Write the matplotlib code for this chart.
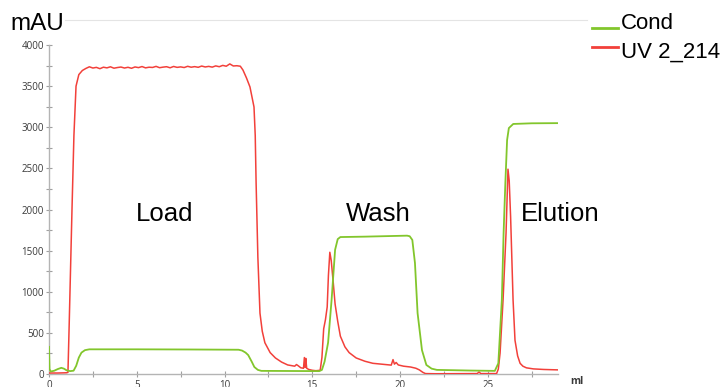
import matplotlib
matplotlib.use("Agg")
import matplotlib.pyplot as plt
from matplotlib.lines import Line2D
from matplotlib.ticker import MultipleLocator

# ---------------- data ----------------
uv_ml = [0.0, 0.5, 1.0, 1.08, 1.15, 1.25, 1.31, 1.42, 1.54, 1.7, 1.9,
         2.1, 2.3, 2.5, 2.7, 2.9, 3.1, 3.3, 3.5, 3.7, 3.9, 4.1, 4.3, 4.5, 4.7, 4.9,
         5.1, 5.3, 5.5, 5.7, 5.9, 6.1, 6.3, 6.5, 6.7, 6.9, 7.1, 7.3, 7.5, 7.7, 7.9,
         8.1, 8.3, 8.5, 8.7, 8.9, 9.1, 9.3, 9.5, 9.7, 9.9, 10.1, 10.3, 10.5, 10.7, 10.9,
         11.05, 11.25, 11.45, 11.68, 11.75, 11.8, 11.9, 12.02, 12.15, 12.3, 12.6, 12.9,
         13.25, 13.6, 14.0, 14.1, 14.2, 14.35, 14.5, 14.55, 14.6, 14.63, 14.68, 14.8,
         15.0, 15.2, 15.45, 15.55, 15.65, 15.75, 15.85, 15.92, 16.0, 16.08, 16.2, 16.3,
         16.45, 16.6, 16.86, 17.1, 17.5, 18.0, 18.45, 19.0, 19.5, 19.6, 19.68, 19.78,
         19.9, 20.2, 20.6, 20.9, 21.1, 21.3, 21.45, 22.0, 24.4, 24.5, 24.6, 25.5,
         25.6, 25.7, 25.87, 26.04, 26.15, 26.22, 26.3, 26.44, 26.55, 26.7, 26.84,
         27.0, 27.2, 27.6, 28.2, 29.0]
uv_mau = [12, 12, 15, 20, 600, 1500, 2000, 2900, 3500, 3640, 3690,
          3715, 3735, 3720, 3728, 3712, 3730, 3722, 3735, 3718, 3726, 3732, 3720, 3729, 3717, 3733,
          3725, 3738, 3722, 3730, 3727, 3740, 3724, 3731, 3736, 3723, 3739, 3728, 3734, 3726, 3741,
          3730, 3737, 3729, 3744, 3733, 3740, 3731, 3746, 3736, 3752, 3742, 3770, 3745, 3748, 3742,
          3696, 3600, 3490, 3246, 2900, 2320, 1420, 740, 520, 380, 260, 195,
          145, 110, 95, 115, 100, 75, 70, 200, 80, 190, 70, 55,
          45, 40, 45, 200, 550, 660, 815, 1200, 1480, 1380, 1100, 850,
          640, 460, 330, 260, 195, 155, 130, 118, 108, 175, 120, 140,
          110, 95, 85, 70, 50, 20, 5, 3, 5, 25, 5, 5,
          60, 255, 900, 1715, 2490, 2350, 1910, 900, 410, 220, 130,
          95, 75, 62, 55, 50]

cond_ml = [0.0, 0.03, 0.1, 0.3, 0.5, 0.7, 0.85, 1.0, 1.2, 1.4, 1.55, 1.7, 1.85, 2.05, 2.3,
           5.0, 8.0, 10.8, 11.0, 11.2, 11.35, 11.55, 11.7, 11.9, 12.1, 15.4, 15.55, 15.7,
           15.9, 16.1, 16.3, 16.45, 16.6, 18.0, 20.4, 20.55, 20.7, 20.85, 21.0, 21.25,
           21.5, 21.8, 22.1, 24.0, 25.4, 25.6, 25.8, 25.9, 26.0, 26.1, 26.2, 26.45, 27.5, 29.0]
cond_mau = [330, 60, 30, 40, 60, 75, 65, 45, 35, 40, 100, 200, 260, 290, 300,
            300, 298, 295, 285, 260, 230, 150, 85, 50, 38, 35, 50, 150,
            380, 900, 1510, 1640, 1665, 1670, 1682, 1675, 1630, 1350, 740, 290,
            110, 65, 50, 42, 38, 130, 900, 1710, 2320, 2845, 2990, 3040, 3048, 3050]

x_ticks = [0, 5, 10, 15, 20, 25]
y_ticks = [0, 500, 1000, 1500, 2000, 2500, 3000, 3500, 4000]

phase_labels = ["Load", "Wash", "Elution"]
phase_ml = [4.96, 16.92, 26.9]

# ---------------- figure ----------------
W, H = 724, 387
fig = plt.figure(figsize=(W / 100, H / 100), dpi=100)
ax = fig.add_axes([49 / W, 13 / H, 509 / W, 329 / H])

red = "#f2403a"
green = "#82c62c"

ax.plot(uv_ml, uv_mau, color=red, lw=1.1, zorder=3)
ax.plot(cond_ml, cond_mau, color=green, lw=1.3, zorder=4)

ax.set_xlim(0, 29.0)
ax.set_ylim(0, 4000)
ax.set_xticks(x_ticks)
ax.set_yticks(y_ticks)
ax.xaxis.set_minor_locator(MultipleLocator(2.5))
ax.yaxis.set_minor_locator(MultipleLocator(250))

for s in ["top", "right"]:
    ax.spines[s].set_visible(False)
for s in ["left", "bottom"]:
    ax.spines[s].set_color("#b4b4b4")
    ax.spines[s].set_linewidth(1.0)

ax.tick_params(which="both", direction="inout", length=5, width=0.8, color="#a0a0a0")
ax.tick_params(axis="y", pad=1, labelsize=7, labelcolor="#3a3a3a")
ax.tick_params(axis="x", pad=2, labelsize=7, labelcolor="#3a3a3a")
for lab in ax.get_xticklabels() + ax.get_yticklabels():
    lab.set_family(["Open Sans", "DejaVu Sans"])

big = ["Liberation Sans", "DejaVu Sans"]
for lab, xm in zip(phase_labels, phase_ml):
    ax.text(xm, 1860, lab, fontsize=18.5, family=big, color="black",
            ha="left", va="baseline")

# unit labels
fig.text(10 / W, 1 - 30 / H, "mAU", fontsize=17.5, family=big, ha="left", va="baseline")
fig.text(570 / W, 1 - 384 / H, "ml", fontsize=7.5, family=["Open Sans", "DejaVu Sans"],
         fontweight="bold", color="#3a3a3a", ha="left", va="baseline")

# top light frame line
fig.add_artist(Line2D([65 / W, 587 / W], [1 - 20 / H, 1 - 20 / H], color="#e4e4e4", lw=0.8))

# legend
fig.add_artist(Line2D([592 / W, 618 / W], [1 - 28 / H, 1 - 28 / H], color=green, lw=2.0))
fig.add_artist(Line2D([592 / W, 618 / W], [1 - 47 / H, 1 - 47 / H], color=red, lw=2.0))
fig.text(621 / W, 1 - 29 / H, "Cond", fontsize=16, family=big, ha="left", va="baseline")
fig.text(621 / W, 1 - 58 / H, "UV 2_214", fontsize=16, family=big, ha="left", va="baseline")

fig.savefig("out.png", dpi=100)
